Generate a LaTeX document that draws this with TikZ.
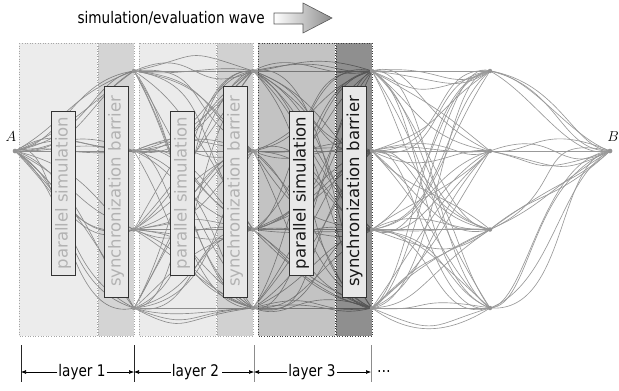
\documentclass[tikz,border=0pt]{standalone}
\usepackage{fontspec}
\setsansfont{DejaVu Sans}
\newfontfamily\narrowsans[FakeStretch=0.85]{DejaVu Sans}
\usetikzlibrary{calc,arrows.meta}
\def\rows{{71,151,229.5,308}}
\newcommand\mycurve[4]{%
  \pgfmathsetmacro\ua{(0.3+0.4*rnd)*#4}%
  \pgfmathsetmacro\ub{(0.3+0.4*rnd)*#4}%
  \pgfmathsetmacro\va{(0.45*rnd)*(#3)+30*rand}%
  \pgfmathsetmacro\vb{-(0.45*rnd)*(#3)+30*rand}%
  \draw[link] (#1.center) .. controls ($(#1.center)+(\ua,\va)$) and ($(#2.center)+(-\ub,\vb)$) .. (#2.center);%
}
\begin{document}
\begin{tikzpicture}[x=1pt,y=-1pt,
  dot/.style={circle,fill=black!42,inner sep=0pt,minimum size=4.5pt},
  link/.style={draw=black!40,line width=0.65pt},
  band/.style={fill=black,draw=black!35,dotted,line width=0.6pt},
  darkband/.style={fill=black,draw=black!75,dotted,line width=0.6pt},
  lbox/.style={draw=black!80,fill=black!9,line width=0.8pt,rotate=90,minimum height=24pt,inner sep=0pt,font=\sffamily\fontsize{16.5}{18}\selectfont},
  faint/.style={text=black!30},
  strong/.style={text=black!90},
  lab/.style={font=\narrowsans\fontsize{16}{18}\selectfont,inner sep=1pt},
  tick/.style={line width=0.8pt},
  dim/.style={-{Latex[length=5pt,width=4pt]},line width=0.6pt},
  letter/.style={font=\fontsize{14}{16}\selectfont,inner sep=0pt}
]
\useasboundingbox (0,0) rectangle (619,391);
\clip (0,0) rectangle (619,391);
% nodes
\node[dot] (A) at (15,151) {};
\node[dot] (B) at (610,151) {};
\foreach \ci/\xx in {1/134,2/253,3/372,4/490}{
  \foreach \ri in {1,...,4}{
    \pgfmathsetmacro\yy{\rows[\ri-1]}
    \coordinate (n\ci-\ri) at (\xx,\yy);
  }
}
% curves
\pgfmathsetseed{4242}
\foreach \ri in {1,...,4}{
  \pgfmathsetmacro\dy{\rows[\ri-1]-151}
  \foreach \ki in {1,...,5}{\mycurve{A}{n1-\ri}{\dy}{119}}
}
\draw[link] (A.center) -- (n1-2);
\foreach \ci in {1,2,3}{
  \pgfmathtruncatemacro\di{\ci+1}
  \foreach \ri in {1,...,4}{
    \foreach \si in {1,...,4}{
      \pgfmathsetmacro\dy{\rows[\si-1]-\rows[\ri-1]}
      \foreach \ki in {1,2,3}{\mycurve{n\ci-\ri}{n\di-\si}{\dy}{119}}
    }
    \draw[link] (n\ci-\ri) -- (n\di-\ri);
  }
}
\foreach \ri in {1,...,4}{
  \pgfmathsetmacro\dy{151-\rows[\ri-1]}
  \foreach \ki in {1,...,4}{\mycurve{n4-\ri}{B}{\dy}{120}}
}
\draw[link] (n4-2) -- (B.center);
% bands (multiplied over the curves)
\path[band,fill opacity=0.075] (19,43) rectangle (97,336);
\path[band,fill opacity=0.17] (98,43) rectangle (134,336);
\path[band,fill opacity=0.08] (139,43) rectangle (216,336);
\path[band,fill opacity=0.18] (217,43) rectangle (253,336);
\path[darkband,fill opacity=0.235] (258,43) rectangle (335,336);
\path[darkband,fill opacity=0.44] (336,43) rectangle (372,336);
% label boxes
\node[lbox,faint,minimum width=164pt] (p1) at (63,193) {parallel simulation};
\node[lbox,faint,minimum width=211pt] (s1) at (116,191.5) {synchronization barrier};
\node[lbox,faint,minimum width=164pt] (p2) at (182,193) {parallel simulation};
\node[lbox,faint,minimum width=211pt] (s2) at (235,191.5) {synchronization barrier};
\node[lbox,strong,minimum width=164pt] (p3) at (301,193) {parallel simulation};
\node[lbox,strong,minimum width=211pt] (s3) at (354.5,191.5) {synchronization barrier};
% node dots on top
\foreach \ci in {1,...,4}{\foreach \ri in {1,...,4}{\node[dot] at (n\ci-\ri) {};}}
\node[dot] at (A) {};
\node[dot] at (B) {};
\node[letter] (labA) at (11,137) {$A$};
\node[letter,anchor=east] (labB) at (619,137) {$B$};
% title and wave arrow
\node[lab,anchor=east] (title) at (266,18) {simulation/evaluation wave};
\shade[left color=white,right color=black!45,draw=black!65,line width=0.6pt]
  (274,13) -- (303,13) -- (303,3) -- (332,18) -- (303,33) -- (303,24) -- (274,24) -- cycle;
% layer dimension lines
\foreach \ti/\tx/\tc in {0/21/black!85,1/134/black!85,2/254/black!45,3/371/black!45}{
  \coordinate (ta\ti) at (\tx,345);
  \coordinate (tb\ti) at (\tx,382);
  \coordinate (tm\ti) at (\tx,372);
  \draw[tick,draw=\tc] (ta\ti) -- (tb\ti);
}
\node[lab] (L1) at (82,372) {layer 1};
\node[lab] (L2) at (195.5,372) {layer 2};
\node[lab] (L3) at (312,372) {layer 3};
\node[lab] (more) at (384,372) {\dots};
\draw[dim] (L1.west) -- (tm0);
\draw[dim] (L1.east) -- (tm1);
\draw[dim] (L2.west) -- (tm1);
\draw[dim] ([xshift=2pt]L2.east) -- (tm2);
\draw[dim] (L3.west) -- (tm2);
\draw[dim] (L3.east) -- (tm3);
\end{tikzpicture}
\end{document}
